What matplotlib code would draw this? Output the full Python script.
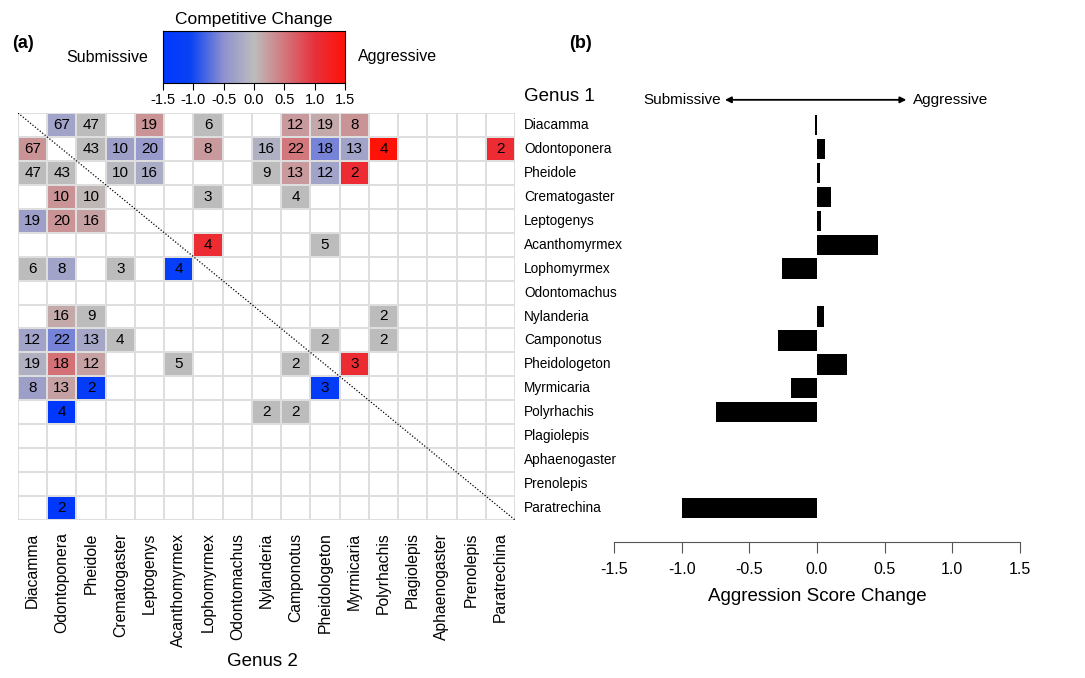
import matplotlib
matplotlib.use("Agg")
import matplotlib.pyplot as plt
import numpy as np
from matplotlib.colors import LinearSegmentedColormap, Normalize

plt.rcParams['font.family'] = ['Liberation Sans', 'DejaVu Sans']

genera = ["Diacamma", "Odontoponera", "Pheidole", "Crematogaster", "Leptogenys",
          "Acanthomyrmex", "Lophomyrmex", "Odontomachus", "Nylanderia", "Camponotus",
          "Pheidologeton", "Myrmicaria", "Polyrhachis", "Plagiolepis", "Aphaenogaster",
          "Prenolepis", "Paratrechina"]

# heatmap cells: row (genus 1), column (genus 2), number of encounters, competitive change
cell_row = [0, 0, 0, 0, 0, 0, 0,
            1, 1, 1, 1, 1, 1, 1, 1, 1, 1, 1,
            2, 2, 2, 2, 2, 2, 2, 2,
            3, 3, 3, 3,
            4, 4, 4,
            5, 5,
            6, 6, 6, 6,
            8, 8, 8,
            9, 9, 9, 9, 9, 9,
            10, 10, 10, 10, 10, 10,
            11, 11, 11, 11,
            12, 12, 12,
            16]
cell_col = [1, 2, 4, 6, 9, 10, 11,
            0, 2, 3, 4, 6, 8, 9, 10, 11, 12, 16,
            0, 1, 3, 4, 8, 9, 10, 11,
            1, 2, 6, 9,
            0, 1, 2,
            6, 10,
            0, 1, 3, 5,
            1, 2, 12,
            0, 1, 2, 3, 10, 12,
            0, 1, 2, 5, 9, 11,
            0, 1, 2, 10,
            1, 8, 9,
            1]
cell_n = [67, 47, 19, 6, 12, 19, 8,
          67, 43, 10, 20, 8, 16, 22, 18, 13, 4, 2,
          47, 43, 10, 16, 9, 13, 12, 2,
          10, 10, 3, 4,
          19, 20, 16,
          4, 5,
          6, 8, 3, 4,
          16, 9, 2,
          12, 22, 13, 4, 2, 2,
          19, 18, 12, 5, 2, 3,
          8, 13, 2, 3,
          4, 2, 2,
          2]
cell_change = [-0.3, 0.0, 0.3, 0.0, 0.25, 0.15, 0.3,
               0.3, 0.0, -0.35, -0.4, 0.25, -0.15, 0.5, -0.6, -0.3, 1.5, 1.1,
               0.0, 0.0, -0.05, -0.2, 0.0, 0.25, -0.3, 1.1,
               0.3, 0.05, 0.0, 0.0,
               -0.35, 0.3, 0.2,
               1.1, 0.0,
               0.0, -0.3, 0.0, -1.2,
               0.15, 0.0, 0.0,
               -0.3, -0.6, -0.25, 0.0, 0.0, 0.0,
               -0.15, 0.55, 0.2, 0.0, 0.0, 1.1,
               -0.35, 0.2, -1.3, -1.3,
               -1.5, 0.0, 0.0,
               -1.5]

# aggression score change per genus (panel b)
score_change = [-0.015, 0.06, 0.02, 0.10, 0.03, 0.45, -0.26, 0.0, 0.05, -0.29,
                0.22, -0.19, -0.75, 0.0, 0.0, 0.0, -1.0]

cmap = LinearSegmentedColormap.from_list(
    "comp", [(0.0, "#0038ff"), (0.15, "#0b42f4"), (0.333, "#8f92cf"),
             (0.5, "#bdbdbd"), (0.84, "#e8303b"), (1.0, "#ff1208")])
norm = Normalize(-1.5, 1.5)

n = len(genera)
fig = plt.figure(figsize=(10.85, 6.78), dpi=100)

# ---- panel (a) heatmap
ax = fig.add_axes([18 / 1085, 1 - 520 / 678, 497 / 1085, 407 / 678])
grid = np.full((n, n), np.nan)
for r, c, v in zip(cell_row, cell_col, cell_change):
    grid[r, c] = v
ax.pcolormesh(np.arange(n + 1) - 0.5, np.arange(n + 1) - 0.5,
              np.ma.masked_invalid(grid), cmap=cmap, norm=norm,
              edgecolors="#dedede", linewidth=1.2)
for k in np.arange(n + 1) - 0.5:
    ax.axhline(k, color="#dedede", lw=1.2, zorder=0)
    ax.axvline(k, color="#dedede", lw=1.2, zorder=0)
for r, c, cnt in zip(cell_row, cell_col, cell_n):
    ax.text(c, r, str(cnt), ha="center", va="center", fontsize=11, color="black")
ax.plot([-0.5, n - 0.5], [-0.5, n - 0.5], color="black", ls=(0, (1, 1.5)), lw=0.9)
ax.set_xlim(-0.5, n - 0.5)
ax.set_ylim(n - 0.5, -0.5)
ax.set_xticks(range(n))
ax.set_xticklabels(genera, rotation=90, fontsize=11.3)
ax.set_yticks([])
ax.tick_params(axis="x", length=0, pad=9)
for s in ax.spines.values():
    s.set_visible(False)
fig.text(262 / 1085, 1 - 662 / 678, "Genus 2", ha="center", va="center", fontsize=13.5)

# colour key
cax = fig.add_axes([163 / 1085, 1 - 83 / 678, 182 / 1085, 52 / 678])
cax.imshow(np.linspace(-1.5, 1.5, 300)[None, :], cmap=cmap, norm=norm,
           extent=[-1.5, 1.5, 0, 1], aspect="auto")
cax.set_xticks([-1.5, -1.0, -0.5, 0.0, 0.5, 1.0, 1.5])
cax.set_xticklabels(["-1.5", "-1.0", "-0.5", "0.0", "0.5", "1.0", "1.5"], fontsize=10.5)
cax.set_yticks([])
cax.tick_params(axis="x", length=5, pad=2)
cax.set_title("Competitive Change", fontsize=12.5, pad=5)
fig.text(148 / 1085, 1 - 57 / 678, "Submissive", ha="right", va="center", fontsize=11.5)
fig.text(358 / 1085, 1 - 57 / 678, "Aggressive", ha="left", va="center", fontsize=11.5)

fig.text(12 / 1085, 1 - 43 / 678, "(a)", ha="left", va="center", fontsize=13, fontweight="bold")
fig.text(569 / 1085, 1 - 43 / 678, "(b)", ha="left", va="center", fontsize=13, fontweight="bold")

# ---- panel (b) bars
bx = fig.add_axes([614 / 1085, 1 - 520 / 678, 406 / 1085, 407 / 678])
bx.barh(range(n), score_change, height=0.85, color="black", linewidth=0)
bx.set_xlim(-1.5, 1.5)
bx.set_ylim(n - 0.5, -0.5)
bx.set_yticks([])
for name in ["top", "right", "left"]:
    bx.spines[name].set_visible(False)
bx.spines["bottom"].set_position(("outward", 16))
bx.spines["bottom"].set_bounds(-1.5, 1.5)
bx.spines["bottom"].set_color("#555555")
bx.set_xticks([-1.5, -1.0, -0.5, 0.0, 0.5, 1.0, 1.5])
bx.set_xticklabels(["-1.5", "-1.0", "-0.5", "0.0", "0.5", "1.0", "1.5"], fontsize=11.5)
bx.tick_params(axis="x", length=8, color="#555555", pad=6)
bx.set_xlabel("Aggression Score Change", fontsize=13.5, labelpad=8)
for i, name in enumerate(genera):
    bx.text(-0.2217, i, name, transform=bx.get_yaxis_transform(),
            ha="left", va="center", fontsize=9.8)
bx.text(-0.2217, -1.2, "Genus 1", transform=bx.get_yaxis_transform(),
        ha="left", va="center", fontsize=13.5)
bx.annotate("", xy=(-0.68, -1.05), xytext=(0.66, -1.05),
            arrowprops=dict(arrowstyle="<|-|>", color="black", lw=1.3,
                            mutation_scale=9, shrinkA=0, shrinkB=0),
            annotation_clip=False)
bx.text(-0.71, -1.05, "Submissive", ha="right", va="center", fontsize=11)
bx.text(0.71, -1.05, "Aggressive", ha="left", va="center", fontsize=11)

fig.savefig("out.png", dpi=100)
